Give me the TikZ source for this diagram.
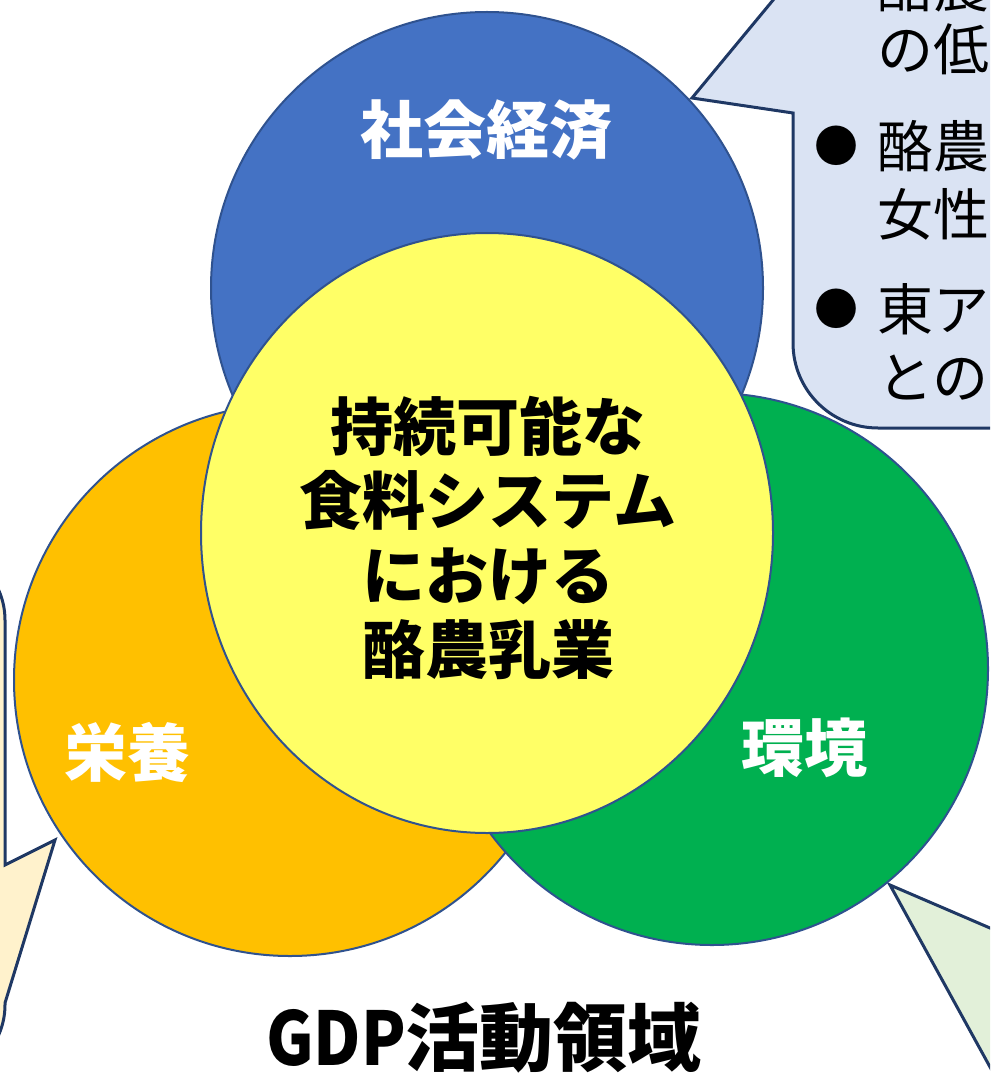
\documentclass[tikz,border=0pt]{standalone}
\usepackage{fontspec}
\usetikzlibrary{shapes.geometric}
\newfontfamily\jp{Noto Sans CJK JP}
\definecolor{vblue}{HTML}{4472C4}
\definecolor{vorange}{HTML}{FFC000}
\definecolor{vgreen}{HTML}{00B050}
\definecolor{vyellow}{HTML}{FFFF66}
\definecolor{vedge}{HTML}{2F528F}
\definecolor{cedge}{HTML}{1F3864}
\definecolor{cblue}{HTML}{DAE3F3}
\definecolor{corange}{HTML}{FFF2CC}
\definecolor{cgreen}{HTML}{E2F0D9}
\tikzset{
  venn/.style={circle, draw=vedge, line width=2pt, inner sep=0pt},
  callout/.style={draw=cedge, line width=3pt, line join=miter},
  lab/.style={text=white, font=\jp\bfseries\fontsize{63}{75}\selectfont, inner sep=0pt},
  ctext/.style={anchor=west, inner sep=0pt, font=\jp\fontsize{56}{68}\selectfont},
  cbullet/.style={inner sep=0pt, font=\jp\fontsize{44}{50}\selectfont},
}
\begin{document}
\begin{tikzpicture}[x=1pt,y=-1pt]
\useasboundingbox (0,0) rectangle (990,1075);
\clip (0,0) rectangle (990,1075);
% callouts
\coordinate (tipS) at (692,98);
\coordinate (tipN) at (55,840);
\coordinate (tipE) at (890,885);
\path[callout, fill=cblue] (1100,-100) -- (793,-100) -- (793,-24) -- (tipS) -- (793,113) -- (793,343)
  .. controls (793,390) and (831,428) .. (878,428) -- (1100,428) -- cycle;
\path[callout, fill=corange] (-400,545) -- (-70,545) .. controls (-29,545) and (5,579) .. (5,620)
  -- (5,865) -- (tipN) -- (5,1003) -- (5,1005) .. controls (5,1046) and (-29,1080) .. (-70,1080)
  -- (-400,1080) -- cycle;
\path[callout, fill=cgreen] (tipE) -- (1090,971) -- (1090,1249) -- cycle;
% callout text
\node[ctext] (t1) at (877,-14) {酪農};
\node[ctext] (t2) at (877,49) {の低};
\node[cbullet] (b1) at (836,146) {●};
\node[ctext] (t3) at (877,146) {酪農};
\node[ctext] (t4) at (877,214) {女性};
\node[cbullet] (b2) at (836,309) {●};
\node[ctext] (t5) at (877,309) {東ア};
\node[ctext] (t6) at (877,378) {との};
% circles
\node[venn, fill=vblue, minimum size=552pt] (soc) at (487,288) {};
\node[venn, fill=vorange, minimum size=552pt] (nut) at (290,680) {};
\node[venn, fill=vgreen, minimum size=552pt] (env) at (712,669) {};
\node[ellipse, draw=vedge, line width=2pt, inner sep=0pt, fill=vyellow, minimum width=572pt, minimum height=600pt] (core) at (487,533) {};
% labels
\node[lab] (lsoc) at (486,130) {社会経済};
\node[lab] (lnut) at (127,752) {栄養};
\node[lab] (lenv) at (804,748) {環境};
\node[align=center, inner sep=0pt, font=\jp\bfseries\fontsize{63}{74.5}\selectfont] (lcore) at (488,538)
  {持続可能な\\食料システム\\における\\酪農乳業};
\node[inner sep=0pt, font=\jp\bfseries\fontsize{74}{80}\selectfont] (gdp) at (484,1038) {\scalebox{0.88}[1.0]{GDP}活動領域};
\end{tikzpicture}
\end{document}
